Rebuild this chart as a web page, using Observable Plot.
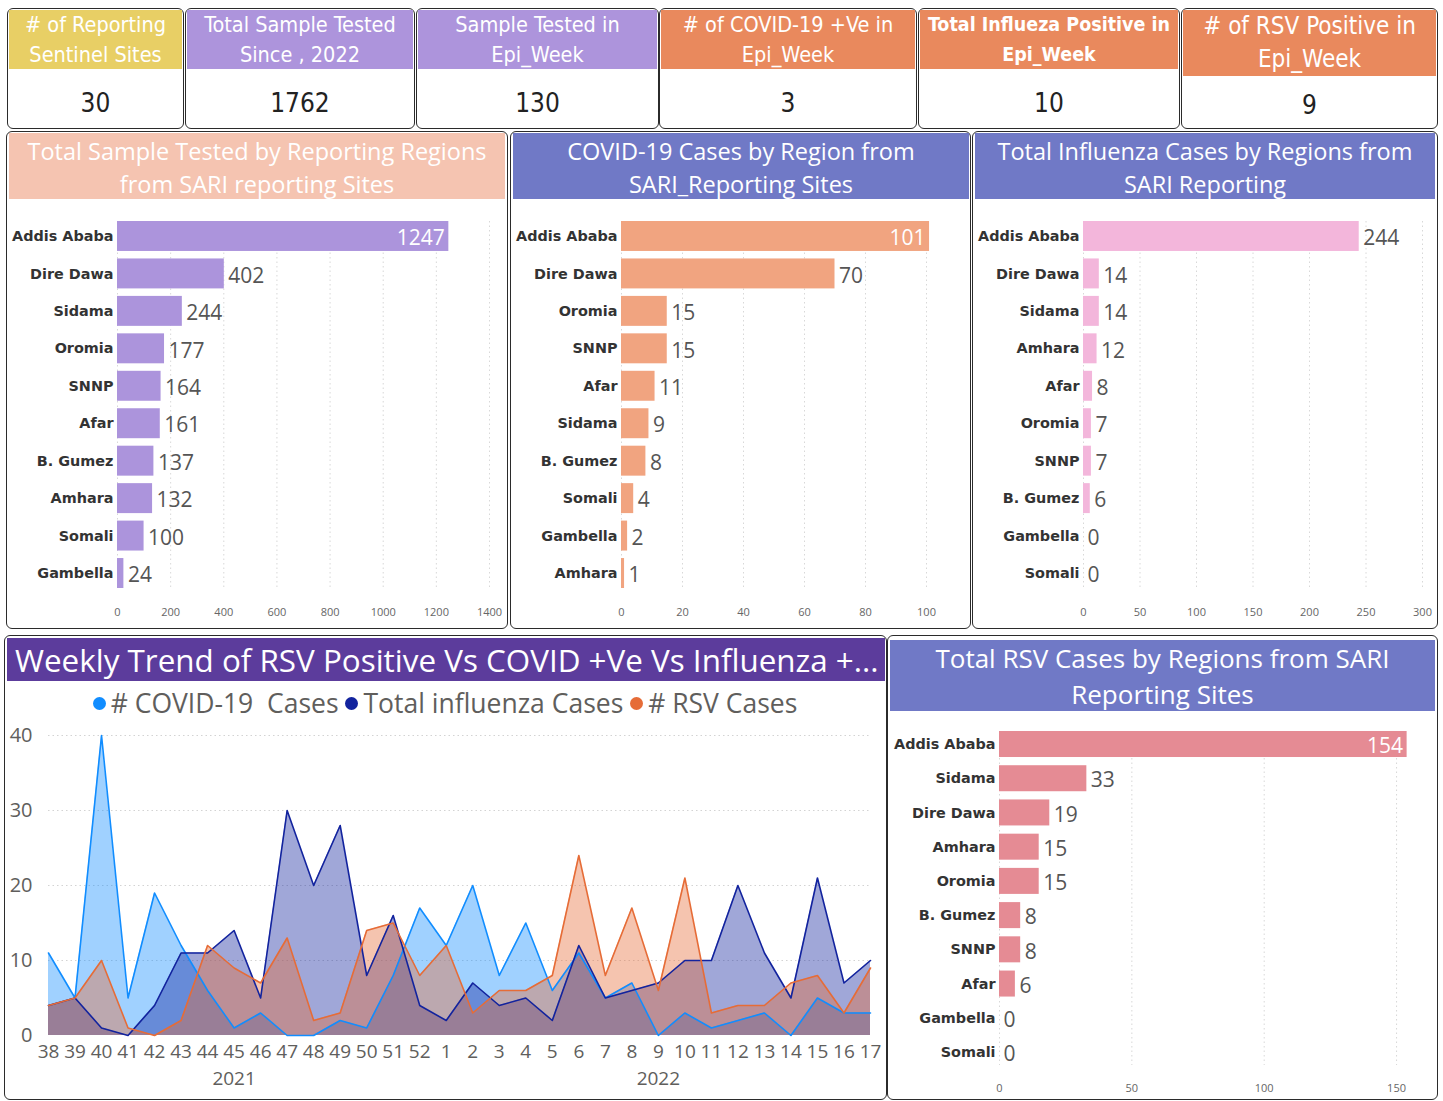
<!DOCTYPE html>
<html>
<head>
<meta charset="utf-8">
<script src="https://cdn.jsdelivr.net/npm/d3@7"></script>
<script src="https://cdn.jsdelivr.net/npm/@observablehq/plot@0.6"></script>
<style>
  html, body { margin:0; padding:0; background:#fff; }
  body { width:1443px; height:1101px; position:relative; overflow:hidden; font-family:"Open Sans", sans-serif; }
  .box { position:absolute; border:1.5px solid #2b2b2b; border-radius:6px; box-sizing:border-box; background:#fff; }
  .hdr { position:absolute; color:#fff; text-align:center; display:flex; align-items:center; justify-content:center; box-sizing:border-box; white-space:nowrap; }
  .kpihdr { font-family:"DejaVu Sans Condensed","DejaVu Sans",sans-serif; font-stretch:condensed; font-size:21px; line-height:30px; }
  .kpival { position:absolute; text-align:center; font-family:"DejaVu Sans Condensed","DejaVu Sans",sans-serif; font-stretch:condensed; font-size:26px; color:#222; }
  .ptitle { font-family:"Open Sans",sans-serif; font-size:23.5px; line-height:33px; }
  .legend { position:absolute; text-align:center; font-family:"Open Sans",sans-serif; font-size:26.5px; color:#605E5C; white-space:pre; }
  .dot { display:inline-block; width:13px; height:13px; border-radius:50%; margin-right:5px; vertical-align:3px; }
  svg { position:absolute; }
</style>
</head>
<body>
<script>
// ---------------- DATA ----------------
const kpiTitles = [
  "# of Reporting<br>Sentinel Sites",
  "Total Sample Tested<br>Since , 2022",
  "Sample Tested in<br>Epi_Week",
  "# of COVID-19 +Ve in<br>Epi_Week",
  "Total Influeza Positive in<br>Epi_Week",
  "# of RSV Positive in<br>Epi_Week"
];
const kpiValues = [30, 1762, 130, 3, 10, 9];

const sampleRegions = ["Addis Ababa","Dire Dawa","Sidama","Oromia","SNNP","Afar","B. Gumez","Amhara","Somali","Gambella"];
const sampleValues  = [1247, 402, 244, 177, 164, 161, 137, 132, 100, 24];
const sampleTicks   = [0, 200, 400, 600, 800, 1000, 1200, 1400];

const covidRegions = ["Addis Ababa","Dire Dawa","Oromia","SNNP","Afar","Sidama","B. Gumez","Somali","Gambella","Amhara"];
const covidValues  = [101, 70, 15, 15, 11, 9, 8, 4, 2, 1];
const covidTicks   = [0, 20, 40, 60, 80, 100];

const fluRegions = ["Addis Ababa","Dire Dawa","Sidama","Amhara","Afar","Oromia","SNNP","B. Gumez","Gambella","Somali"];
const fluValues  = [244, 14, 14, 12, 8, 7, 7, 6, 0, 0];
const fluTicks   = [0, 50, 100, 150, 200, 250, 300];

const rsvRegions = ["Addis Ababa","Sidama","Dire Dawa","Amhara","Oromia","B. Gumez","SNNP","Afar","Gambella","Somali"];
const rsvValues  = [154, 33, 19, 15, 15, 8, 8, 6, 0, 0];
const rsvTicks   = [0, 50, 100, 150];

const weekYears = [2021,2021,2021,2021,2021,2021,2021,2021,2021,2021,2021,2021,2021,2021,2021,
                   2022,2022,2022,2022,2022,2022,2022,2022,2022,2022,2022,2022,2022,2022,2022,2022,2022];
const weekNums  = [38,39,40,41,42,43,44,45,46,47,48,49,50,51,52,
                   1,2,3,4,5,6,7,8,9,10,11,12,13,14,15,16,17];
const covidWeekly = [11,5,40,5,19,12,6,1,3,0,0,2,1,8,17, 12,20,8,15,6,11,5,7,0,3,1,2,3,0,5,3,3];
const fluWeekly   = [4,5,1,0,4,11,11,14,5,30,20,28,8,16,4, 2,7,4,5,2,12,5,6,7,10,10,20,11,5,21,7,10];
const rsvWeekly   = [4,5,10,1,0,2,12,9,7,13,2,3,14,15,8, 12,3,6,6,8,24,8,17,6,21,3,4,4,7,8,3,9];
const weeklyTicks = [0, 10, 20, 30, 40];
const yearLabels  = [{year:"2021", week:45}, {year:"2022", week:9}];

const legendItems = [
  {label:"# COVID-19  Cases", color:"#118DFF"},
  {label:"Total influenza Cases", color:"#12239E"},
  {label:"# RSV Cases", color:"#E66C37"}
];

const panelTitles = {
  samples: "Total Sample Tested by Reporting Regions<br>from SARI reporting Sites",
  covid: "COVID-19 Cases by Region from<br>SARI_Reporting Sites",
  flu: "Total Influenza Cases by Regions from<br>SARI Reporting",
  weekly: "Weekly Trend of RSV Positive Vs COVID +Ve Vs Influenza +...",
  rsv: "Total RSV Cases by Regions from SARI<br>Reporting Sites"
};

// ---------------- HELPERS ----------------
function el(tag, cls, css, html) {
  const e = document.createElement(tag);
  if (cls) e.className = cls;
  Object.assign(e.style, css || {});
  if (html != null) e.innerHTML = html;
  document.body.appendChild(e);
  return e;
}
function px(v) { return v + "px"; }
function place(node, left, top) {
  node.style.left = px(left); node.style.top = px(top);
  document.body.appendChild(node);
}

// ---------------- KPI CARDS ----------------
const kpiLayout = [
  {l:7, w:177, bg:"#E8CF65", hh:59, bold:false, fs:21.5},
  {l:185, w:230, bg:"#AD94DC", hh:59, bold:false, fs:21.5},
  {l:416, w:243, bg:"#AD94DC", hh:59, bold:false, fs:21.5},
  {l:659, w:258, bg:"#E9895D", hh:59, bold:false, fs:21.5},
  {l:918, w:262, bg:"#E9895D", hh:59, bold:true, fs:19.5},
  {l:1181, w:257, bg:"#E9895D", hh:66, bold:false, fs:24}
];
kpiLayout.forEach((k, i) => {
  el("div", "box", {left:px(k.l), top:"8px", width:px(k.w), height:"121px"});
  el("div", "hdr kpihdr", {left:px(k.l+2), top:"10px", width:px(k.w-4), height:px(k.hh), background:k.bg,
     fontWeight:k.bold ? "bold" : "normal", fontSize:px(k.fs), lineHeight: k.hh > 60 ? "33px" : "30px"}, kpiTitles[i]);
  el("div", "kpival", {left:px(k.l), width:px(k.w), top: px(k.hh > 60 ? 90 : 88)}, String(kpiValues[i]));
});

// ---------------- PANELS ----------------
el("div", "box", {left:"6px", top:"131px", width:"502px", height:"498px"});
el("div", "box", {left:"510px", top:"131px", width:"461px", height:"498px"});
el("div", "box", {left:"972px", top:"131px", width:"466px", height:"498px"});
el("div", "box", {left:"4px", top:"635px", width:"883px", height:"465px"});
el("div", "box", {left:"887px", top:"635px", width:"551px", height:"465px"});

el("div", "hdr ptitle", {left:"9px", top:"133px", width:"496px", height:"66px", background:"#F5C4B1", paddingTop:"4px"}, panelTitles.samples);
el("div", "hdr ptitle", {left:"513px", top:"133px", width:"456px", height:"66px", background:"#7079C6", paddingTop:"4px"}, panelTitles.covid);
el("div", "hdr ptitle", {left:"975px", top:"133px", width:"460px", height:"66px", background:"#7079C6", paddingTop:"4px"}, panelTitles.flu);
el("div", "hdr", {left:"7px", top:"638px", width:"878px", height:"43px", background:"#5C3C9C",
   justifyContent:"flex-start", paddingLeft:"8px", fontSize:"31.4px", fontFamily:"'Open Sans',sans-serif"}, panelTitles.weekly);
el("div", "hdr ptitle", {left:"890px", top:"640px", width:"545px", height:"71px", background:"#7079C6",
   fontSize:"26px", lineHeight:"36px"}, panelTitles.rsv);

el("div", "legend", {left:"5px", top:"685px", width:"880px"},
  legendItems.map(d => `<span class="dot" style="background:${d.color}"></span>${d.label}`).join(" "));

// ---------------- BAR CHARTS ----------------
function barChart(o) {
  const data = o.regions.map((r, i) => ({region: r, value: o.values[i]}));
  const maxV = d3.max(o.values);
  const inside = d => o.insideTop && d.value === maxV;
  return Plot.plot({
    width: o.width, height: o.height,
    marginLeft: o.marginLeft, marginRight: o.marginRight, marginTop: o.marginTop, marginBottom: o.marginBottom,
    style: {background: "transparent", fontFamily: "'Open Sans',sans-serif", overflow: "visible"},
    x: {domain: o.domain, label: null},
    y: {domain: o.regions, paddingInner: o.paddingInner, paddingOuter: 0, round: false, label: null},
    marks: [
      Plot.gridX(o.ticks, {stroke: "#c8c8c8", strokeOpacity: 0.7, strokeDasharray: "1.5,3"}),
      Plot.barX(data, {x: "value", y: "region", fill: o.color}),
      Plot.text(data.filter(d => !inside(d)), {x: "value", y: "region", text: d => String(d.value),
        textAnchor: "start", dx: 4, dy: 2, fontSize: 21, fill: "#555"}),
      Plot.text(data.filter(inside), {x: "value", y: "region", text: d => String(d.value),
        textAnchor: "end", dx: -4, dy: 2, fontSize: 21, fill: "#fff"}),
      Plot.axisY({tickSize: 0, tickPadding: 4, fontSize: 14.4, fontWeight: "bold",
        fontFamily: "'DejaVu Sans',sans-serif", fill: "#333", label: null}),
      Plot.axisX({ticks: o.ticks, tickFormat: d3.format("d"), tickSize: 0, tickPadding: o.tickPadding,
        fontSize: 11, fill: "#666", label: null})
    ]
  });
}

place(barChart({regions: sampleRegions, values: sampleValues, ticks: sampleTicks, color: "#AC94DC",
  domain: [0, 1400], width: 498, height: 420, marginLeft: 109, marginRight: 17, marginTop: 16, marginBottom: 37,
  paddingInner: 0.2, tickPadding: 20, insideTop: true}), 8, 205);

place(barChart({regions: covidRegions, values: covidValues, ticks: covidTicks, color: "#F1A480",
  domain: [0, 105], width: 456, height: 420, marginLeft: 109, marginRight: 26.75, marginTop: 16, marginBottom: 37,
  paddingInner: 0.2, tickPadding: 20, insideTop: true}), 512, 205);

place(barChart({regions: fluRegions, values: fluValues, ticks: fluTicks, color: "#F3B6DB",
  domain: [0, 300], width: 462, height: 420, marginLeft: 109, marginRight: 14, marginTop: 16, marginBottom: 37,
  paddingInner: 0.2, tickPadding: 20, insideTop: false}), 974, 205);

place(barChart({regions: rsvRegions, values: rsvValues, ticks: rsvTicks, color: "#E58B94",
  domain: [0, 160], width: 547, height: 380, marginLeft: 110, marginRight: 13.5, marginTop: 16, marginBottom: 30,
  paddingInner: 0.24, tickPadding: 19, insideTop: true}), 889, 715);

// ---------------- WEEKLY TREND ----------------
const keyOf = (y, w) => y + "-" + w;
const weekly = weekNums.map((w, i) => ({
  key: keyOf(weekYears[i], w), covid: covidWeekly[i], flu: fluWeekly[i], rsv: rsvWeekly[i]
}));
const years = yearLabels.map(d => ({key: keyOf(d.year, d.week), year: d.year}));
const cBlue = "#118DFF", cNavy = "#12239E", cOrange = "#E66C37";

const weeklyPlot = Plot.plot({
  width: 878, height: 375, marginLeft: 42, marginRight: 14, marginTop: 15, marginBottom: 60,
  style: {background: "transparent", fontFamily: "'Open Sans',sans-serif", overflow: "visible"},
  x: {type: "point", domain: weekly.map(d => d.key), padding: 0, round: false, label: null},
  y: {domain: [0, 40], label: null},
  marks: [
    Plot.gridY(weeklyTicks.slice(1), {stroke: "#c8c8c8", strokeOpacity: 0.8, strokeDasharray: "1.5,3"}),
    Plot.areaY(weekly, {x: "key", y: "covid", fill: cBlue, fillOpacity: 0.4}),
    Plot.areaY(weekly, {x: "key", y: "flu", fill: cNavy, fillOpacity: 0.4}),
    Plot.areaY(weekly, {x: "key", y: "rsv", fill: cOrange, fillOpacity: 0.4}),
    Plot.lineY(weekly, {x: "key", y: "covid", stroke: cBlue, strokeWidth: 1.6}),
    Plot.lineY(weekly, {x: "key", y: "flu", stroke: cNavy, strokeWidth: 1.6}),
    Plot.lineY(weekly, {x: "key", y: "rsv", stroke: cOrange, strokeWidth: 1.6}),
    Plot.axisY({ticks: weeklyTicks, tickSize: 0, tickPadding: 16, fontSize: 20, fill: "#605E5C", label: null}),
    Plot.axisX({tickSize: 0, tickPadding: 9, fontSize: 19, fill: "#605E5C", label: null,
      tickFormat: k => k.split("-")[1]}),
    Plot.text(years, {x: "key", text: "year", frameAnchor: "bottom", dy: 49, fontSize: 19, fill: "#605E5C"})
  ]
});
place(weeklyPlot, 6, 720);
</script>
</body>
</html>
